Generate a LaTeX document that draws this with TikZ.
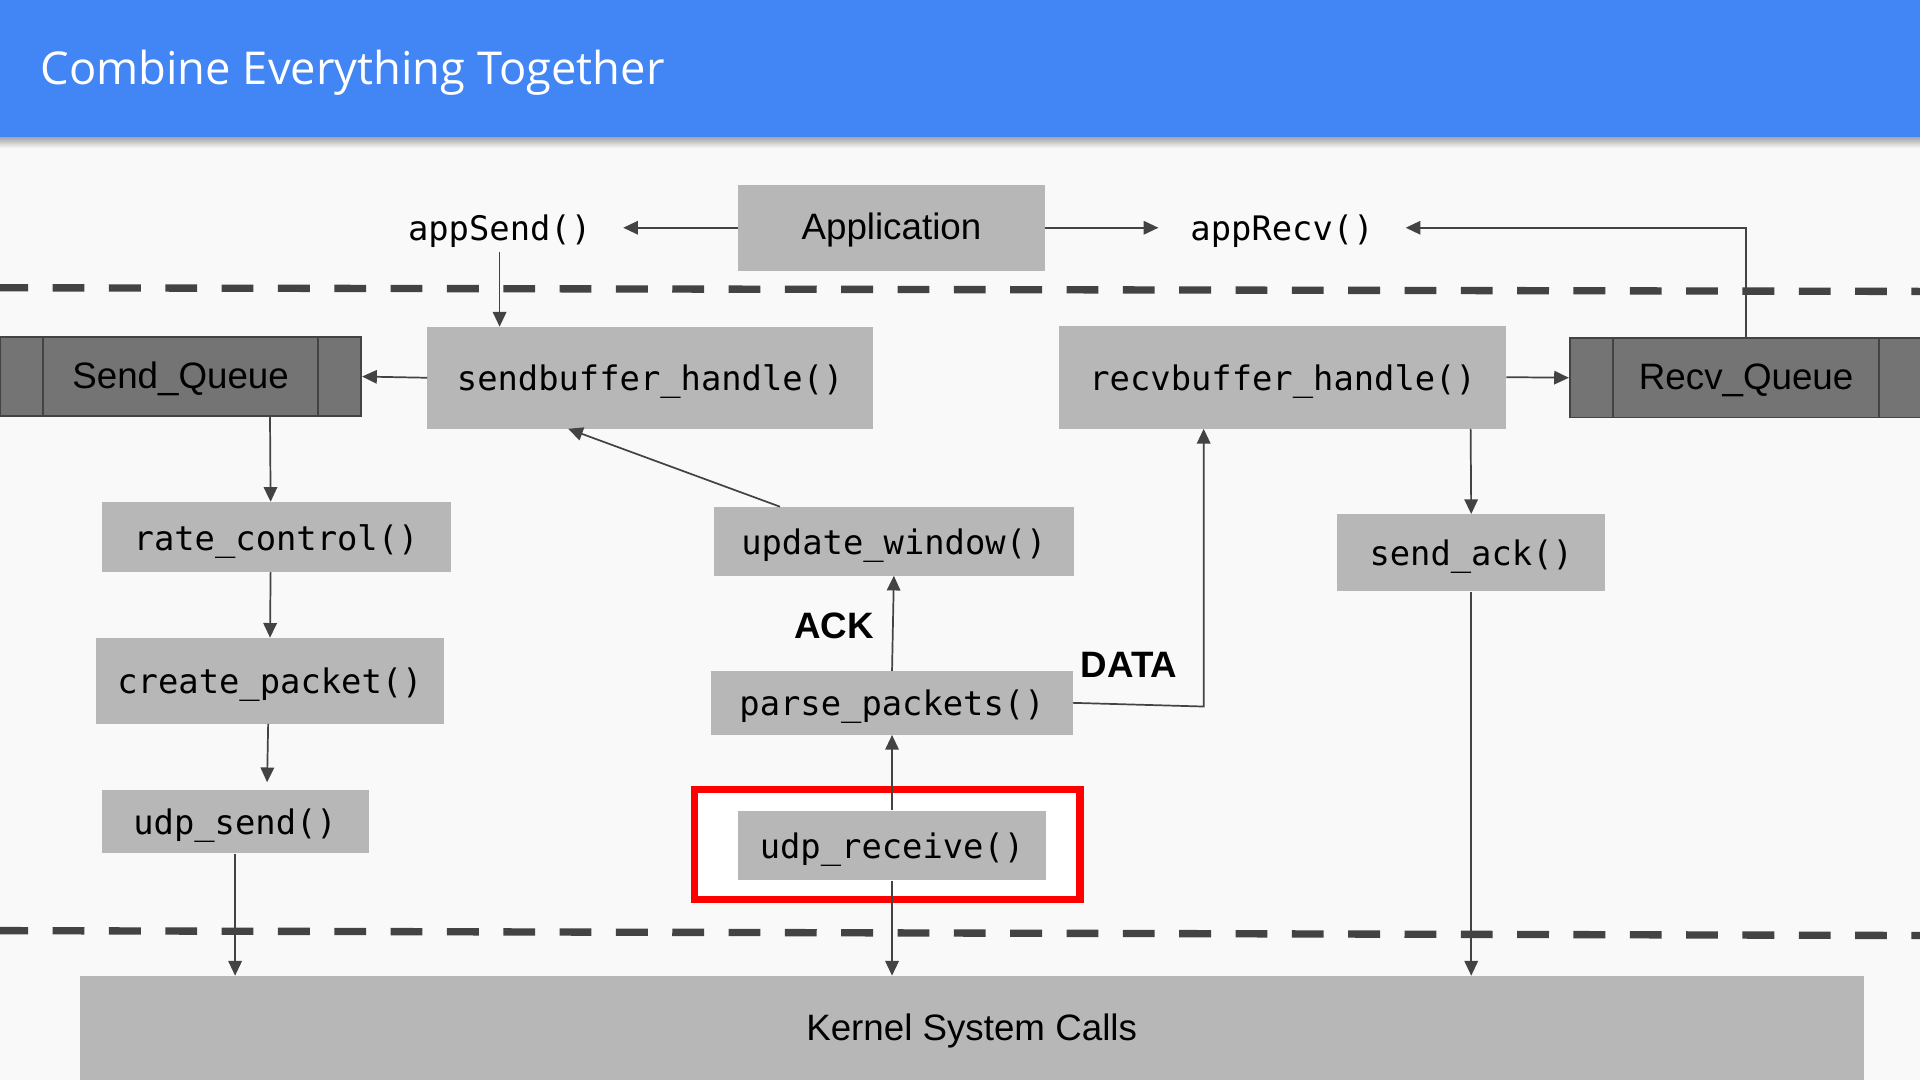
\documentclass[tikz,border=0pt]{standalone}
\usepackage{fontspec}
\setmainfont{Liberation Sans}
\newfontfamily\codefont{DejaVu Sans Mono}
\newfontfamily\titlefont{Open Sans}
\usetikzlibrary{arrows.meta}

\definecolor{slideblue}{HTML}{4285F4}
\definecolor{boxgray}{HTML}{B7B7B7}
\definecolor{queuegray}{HTML}{747474}
\definecolor{linegray}{HTML}{434343}
\definecolor{slidebg}{HTML}{F9F9F9}

\begin{document}
\begin{tikzpicture}[x=1pt,y=-1pt,inner sep=0pt,
            func/.style={fill=boxgray,text height=25pt,text depth=3.6pt,font=\codefont\fontsize{27.6}{32}\selectfont},
            plainbox/.style={fill=boxgray,text height=26pt,text depth=6.3pt,font=\fontsize{30}{36}\selectfont},
            queue/.style={fill=queuegray,draw=linegray,line width=1.5pt,text height=26pt,text depth=6.3pt,font=\fontsize{30}{36}\selectfont},
            call/.style={inner xsep=26pt,inner ysep=5pt,text height=25pt,text depth=3.6pt,font=\codefont\fontsize{27.6}{32}\selectfont},
            tag/.style={font=\bfseries\fontsize{30}{36}\selectfont},
            flow/.style={draw=linegray,line width=1.4pt,-{Triangle[length=12pt,width=11pt]}},
            layer/.style={draw=linegray,line width=6pt,dash pattern=on 26pt off 20pt,dash phase=3pt}]
                \useasboundingbox (0,0) rectangle (1568,882);
                \clip (0,0) rectangle (1568,882);
                % slide and title bar
                \fill[slidebg] (0,0) rectangle (1568,882);
                \shade[top color=black!35,bottom color=slidebg] (0,112) rectangle (1568,121);
                \fill[slideblue] (0,0) rectangle (1568,112);
                \node[anchor=base west,text=white,font=\titlefont\fontsize{37}{44}\selectfont] (title) at (33,69) {Combine Everything Together};

                % layer borders
                \draw[layer] (0,235) -- (1568,238);
                \draw[layer] (0,760) -- (1568,764);

                \node[plainbox,minimum width=250pt,minimum height=70pt] (app) at (728,186) {Application};
                \node[call] (appsend) at (408,186) {appSend()};
                \node[call] (apprecv) at (1047,186) {appRecv()};

                \node[func,minimum width=364pt,minimum height=83pt] (sendbuf) at (531,308.5) {sendbuffer\_handle()};
                \node[queue,minimum width=295pt,minimum height=65pt] (sendq) at (147.5,307.5) {Send\_Queue};
                \node[func,minimum width=365pt,minimum height=84pt] (recvbuf) at (1047.5,308) {recvbuffer\_handle()};
                \node[queue,minimum width=288pt,minimum height=65pt] (recvq) at (1426,308.5) {Recv\_Queue};
                \foreach \q in {sendq,recvq} {
                    \draw[linegray,line width=1.5pt] ([xshift=36pt]\q.north west) -- ([xshift=36pt]\q.south west);
                    \draw[linegray,line width=1.5pt] ([xshift=-36pt]\q.north east) -- ([xshift=-36pt]\q.south east);
                }

                \node[func,minimum width=285pt,minimum height=57pt] (rate) at (225.5,438.5) {rate\_control()};
                \node[func,minimum width=285pt,minimum height=70pt] (create) at (220.5,556) {create\_packet()};
                \node[func,minimum width=218pt,minimum height=52pt] (udpsend) at (192,671) {udp\_send()};

                \node[func,minimum width=294pt,minimum height=56pt] (update) at (730,442) {update\_window()};
                \node[func,minimum width=295pt,minimum height=52pt] (parse) at (728.5,574) {parse\_packets()};
                \node[draw=red,line width=6pt,fill=white,minimum width=315pt,minimum height=90pt] (focus) at (724.5,689.5) {};
                \node[func,minimum width=251pt,minimum height=57pt] (udprecv) at (728.5,690.5) {udp\_receive()};
                \node[func,minimum width=219pt,minimum height=63pt] (sendack) at (1201.5,451.5) {send\_ack()};

                \node[tag] (ack) at (681,511) {ACK};
                \node[tag] (data) at (922,543) {DATA};

                \node[plainbox,minimum width=1457pt,minimum height=85pt] (kernel) at (793.5,839.5) {Kernel System Calls};
                \coordinate (bend) at (983,577);

            \begin{scope}[flow]
                \draw (app.west) -- (appsend.east);
                \draw (app.east) -- (apprecv.west);
                \draw (recvq.north) |- (apprecv.east);
                \draw (appsend.south) -- (appsend.south |- sendbuf.north);
                \draw (sendbuf.west) -- (sendq.east);
                \draw (recvbuf.east) -- (recvq.west);
                \draw ([xshift=73pt]sendq.south) -- ([xshift=-4.5pt]rate.north);
                \draw ([xshift=-4.5pt]rate.south) -- (create.north);
                \draw[shorten >=6pt] ([xshift=-1.5pt]create.south) -- ([xshift=26pt]udpsend.north);
                \draw (udpsend.south) -- (udpsend.south |- kernel.north);
                \draw ([xshift=-93pt]update.north) -- ([xshift=-67pt]sendbuf.south);
                \draw (parse.north) -- (update.south);
                \draw (udprecv.north) -- (parse.south);
                \draw (udprecv.south) -- (udprecv.south |- kernel.north);
                \draw (parse.east) -- (bend) -- (bend |- recvbuf.south);
                \draw ([xshift=153.5pt]recvbuf.south) -- (sendack.north);
                \draw (sendack.south) -- (sendack.south |- kernel.north);
            \end{scope}
        \end{tikzpicture}
\end{document}
